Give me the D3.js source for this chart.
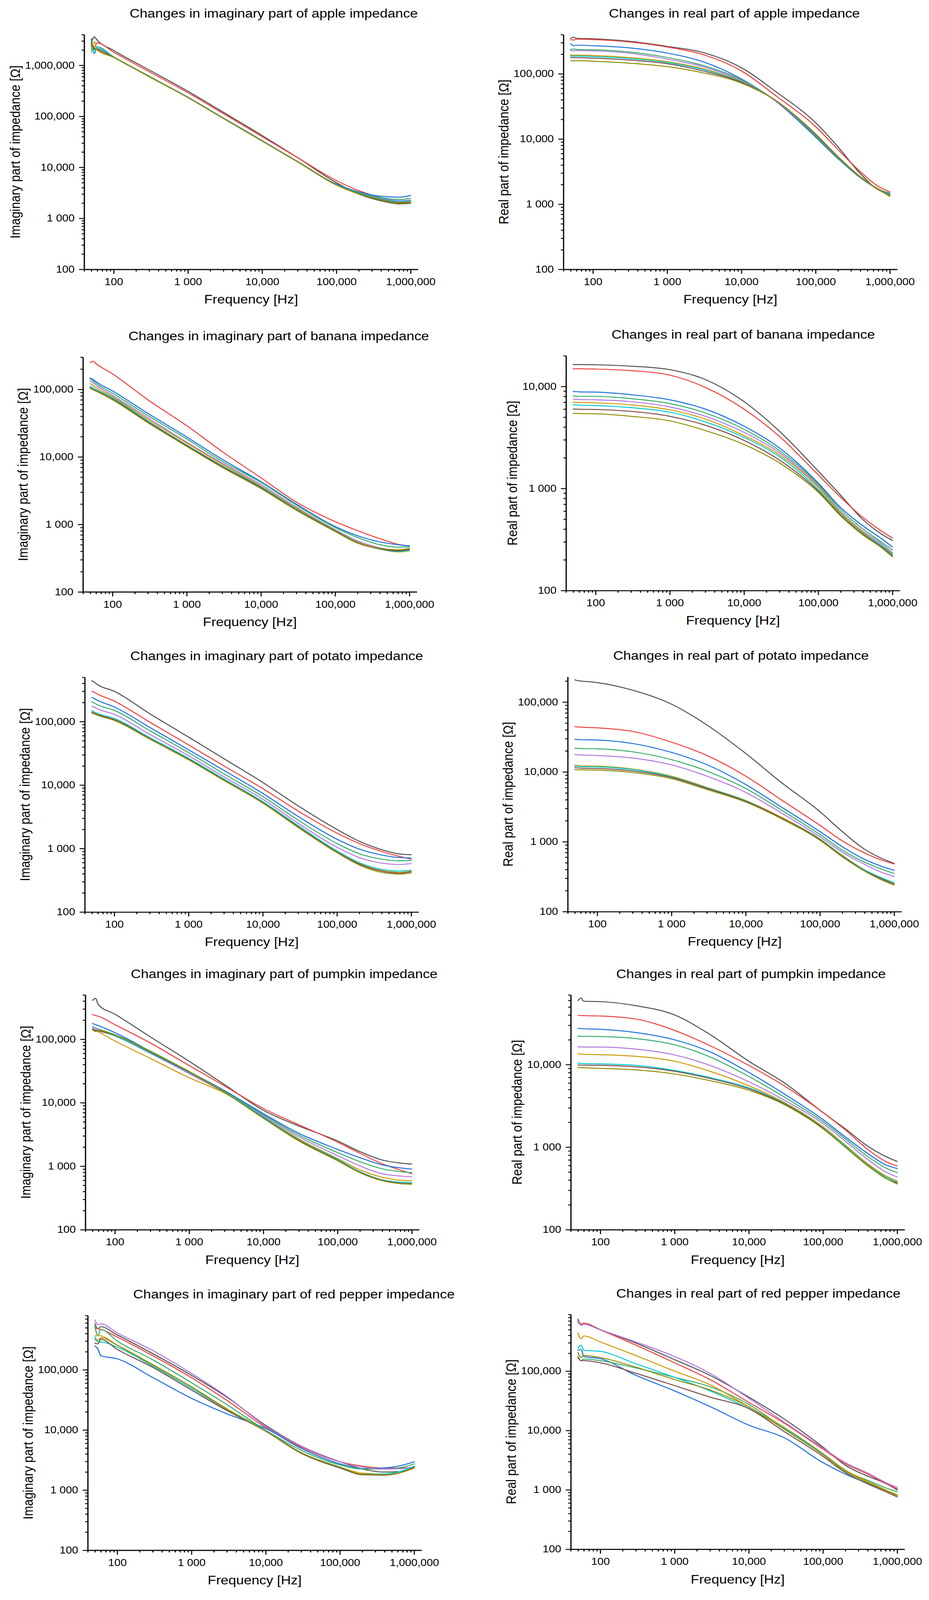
<!DOCTYPE html>
<html>
<head>
<meta charset="utf-8">
<script src="https://cdn.jsdelivr.net/npm/d3@7"></script>
<style>
  html, body { margin: 0; padding: 0; background: #fff; width: 100vw; height: 100vh; overflow: hidden; }
  svg { display: block; width: 100vw; height: 100vh; }
  text { font-family: "Liberation Sans", Arial, sans-serif; fill: #000; }
</style>
</head>
<body>
<svg id="chart" viewBox="0 0 2379 4675" preserveAspectRatio="none"></svg>
<script>
// frequencies [Hz] where the curves are sampled
var freq = [50, 55, 60, 100, 300, 1000, 3000, 10000, 30000, 100000, 200000, 400000, 700000, 1000000];

// line colours, same order as the series in every panel
var lineColors = ["#515151", "#F14040", "#1A6FDF", "#37AD6B", "#B177DE", "#CC9900", "#00CBCC", "#7D4E4E", "#8E8E00"];

var tickValues = [100, 1000, 10000, 100000, 1000000];
var tickLabels = ["100", "1 000", "10,000", "100,000", "1,000,000"];

// one row per series: black, red, blue, green, violet, gold, cyan, brown, olive
var appleImag = [
  [2.8e6, 3.6e6, 3.1e6, 1.95e6, 8.1e5, 3.1e5, 1.2e5, 4.2e4, 1.55e4, 5.0e3, 3.0e3, 2.2e3, 1.92e3, 1.97e3],
  [2.5e6, 2.3e6, 2.75e6, 1.8e6, 7.5e5, 2.9e5, 1.13e5, 4.0e4, 1.55e4, 5.5e3, 3.5e3, 2.55e3, 2.2e3, 2.2e3],
  [3.3e6, 1.7e6, 2.3e6, 1.46e6, 6.1e5, 2.37e5, 9.3e4, 3.35e4, 1.3e4, 4.7e3, 3.3e3, 2.7e3, 2.6e3, 2.8e3],
  [2.4e6, 2.0e6, 2.15e6, 1.45e6, 6.1e5, 2.36e5, 9.2e4, 3.3e4, 1.3e4, 4.6e3, 3.2e3, 2.55e3, 2.35e3, 2.47e3],
  [2.5e6, 2.2e6, 2.1e6, 1.44e6, 6.0e5, 2.35e5, 9.2e4, 3.3e4, 1.3e4, 4.6e3, 3.1e3, 2.45e3, 2.22e3, 2.3e3],
  [1.8e6, 2.9e6, 2.0e6, 1.43e6, 6.0e5, 2.34e5, 9.1e4, 3.3e4, 1.29e4, 4.55e3, 3.05e3, 2.35e3, 2.08e3, 2.1e3],
  [2.2e6, 1.8e6, 2.3e6, 1.44e6, 6.05e5, 2.35e5, 9.2e4, 3.3e4, 1.3e4, 4.6e3, 3.1e3, 2.4e3, 2.15e3, 2.2e3],
  [2.6e6, 2.1e6, 2.05e6, 1.43e6, 6.0e5, 2.34e5, 9.1e4, 3.28e4, 1.29e4, 4.55e3, 3.05e3, 2.33e3, 2.03e3, 2.05e3],
  [2.7e6, 2.2e6, 2.0e6, 1.43e6, 6.0e5, 2.33e5, 9.1e4, 3.28e4, 1.28e4, 4.5e3, 3.0e3, 2.3e3, 1.98e3, 2.0e3]
];

var appleReal = [
  [3.5e5, 3.65e5, 3.5e5, 3.45e5, 3.16e5, 2.64e5, 2.13e5, 1.24e5, 5.2e4, 1.78e4, 7.6e3, 2.95e3, 1.66e3, 1.43e3],
  [3.35e5, 3.3e5, 3.4e5, 3.35e5, 3.09e5, 2.58e5, 1.98e5, 1.11e5, 4.5e4, 1.55e4, 6.9e3, 3.16e3, 1.87e3, 1.55e3],
  [2.9e5, 2.7e5, 2.75e5, 2.7e5, 2.51e5, 2.08e5, 1.54e5, 8.35e4, 3.7e4, 1.07e4, 5.0e3, 2.55e3, 1.7e3, 1.48e3],
  [2.35e5, 2.4e5, 2.37e5, 2.34e5, 2.17e5, 1.78e5, 1.35e5, 8.1e4, 3.75e4, 1.12e4, 5.1e3, 2.6e3, 1.72e3, 1.43e3],
  [2.3e5, 2.25e5, 2.27e5, 2.25e5, 2.08e5, 1.68e5, 1.29e5, 7.8e4, 3.75e4, 1.14e4, 5.2e3, 2.6e3, 1.7e3, 1.4e3],
  [1.95e5, 1.93e5, 1.94e5, 1.91e5, 1.78e5, 1.54e5, 1.2e5, 7.6e4, 3.8e4, 1.16e4, 5.25e3, 2.62e3, 1.7e3, 1.38e3],
  [1.88e5, 1.86e5, 1.87e5, 1.84e5, 1.72e5, 1.49e5, 1.17e5, 7.5e4, 3.8e4, 1.15e4, 5.2e3, 2.6e3, 1.68e3, 1.37e3],
  [1.78e5, 1.77e5, 1.77e5, 1.74e5, 1.63e5, 1.43e5, 1.11e5, 7.4e4, 3.8e4, 1.17e4, 5.3e3, 2.62e3, 1.68e3, 1.35e3],
  [1.6e5, 1.58e5, 1.59e5, 1.56e5, 1.46e5, 1.29e5, 1.04e5, 7.2e4, 3.8e4, 1.2e4, 5.4e3, 2.65e3, 1.68e3, 1.32e3]
];

var bananaImag = [
  [1.05e5, 9.9e4, 9.5e4, 7.1e4, 3.25e4, 1.45e4, 7.1e3, 3.45e3, 1.63e3, 7.9e2, 5.3e2, 4.35e2, 4.1e2, 4.35e2],
  [2.5e5, 2.6e5, 2.4e5, 1.7e5, 7.0e4, 2.9e4, 1.2e4, 4.9e3, 2.14e3, 1.1e3, 8.1e2, 6.15e2, 5.07e2, 4.8e2],
  [1.47e5, 1.4e5, 1.3e5, 9.5e4, 4.4e4, 1.97e4, 9.2e3, 4.3e3, 2.0e3, 9.3e2, 6.8e2, 5.5e2, 5.0e2, 4.8e2],
  [1.43e5, 1.33e5, 1.23e5, 8.8e4, 4.1e4, 1.84e4, 8.6e3, 4.2e3, 1.93e3, 9.0e2, 6.4e2, 5.0e2, 4.6e2, 4.65e2],
  [1.34e5, 1.25e5, 1.16e5, 8.2e4, 3.8e4, 1.65e4, 8.1e3, 3.9e3, 1.8e3, 8.4e2, 5.7e2, 4.5e2, 4.1e2, 4.2e2],
  [1.22e5, 1.14e5, 1.07e5, 7.8e4, 3.6e4, 1.6e4, 7.8e3, 3.7e3, 1.74e3, 8.2e2, 5.5e2, 4.35e2, 3.9e2, 4.05e2],
  [1.11e5, 1.05e5, 1.0e5, 7.5e4, 3.4e4, 1.5e4, 7.4e3, 3.6e3, 1.68e3, 8.1e2, 5.4e2, 4.3e2, 3.97e2, 4.1e2],
  [1.06e5, 1.0e5, 9.6e4, 7.2e4, 3.3e4, 1.47e4, 7.2e3, 3.5e3, 1.65e3, 8.0e2, 5.35e2, 4.35e2, 4.05e2, 4.3e2],
  [1.04e5, 9.8e4, 9.4e4, 7.0e4, 3.2e4, 1.43e4, 7.0e3, 3.4e3, 1.62e3, 7.85e2, 5.3e2, 4.4e2, 4.2e2, 4.4e2]
];

var bananaReal = [
  [1.64e4, 1.64e4, 1.64e4, 1.63e4, 1.58e4, 1.46e4, 1.17e4, 7.1e3, 3.64e3, 1.48e3, 8.6e2, 4.95e2, 3.6e2, 3.1e2],
  [1.49e4, 1.49e4, 1.49e4, 1.48e4, 1.43e4, 1.29e4, 9.8e3, 6.0e3, 3.24e3, 1.36e3, 8.2e2, 5.2e2, 3.85e2, 3.27e2],
  [8.9e3, 8.9e3, 8.85e3, 8.8e3, 8.3e3, 7.4e3, 6.0e3, 4.08e3, 2.5e3, 1.13e3, 6.5e2, 4.3e2, 3.25e2, 2.67e2],
  [8.05e3, 8.05e3, 8.0e3, 8.0e3, 7.6e3, 6.8e3, 5.5e3, 3.8e3, 2.35e3, 1.1e3, 6.2e2, 4.0e2, 3.0e2, 2.5e2],
  [7.5e3, 7.5e3, 7.45e3, 7.4e3, 7.1e3, 6.3e3, 5.1e3, 3.55e3, 2.24e3, 1.06e3, 5.9e2, 3.8e2, 2.9e2, 2.35e2],
  [7.0e3, 7.0e3, 6.95e3, 6.9e3, 6.6e3, 5.9e3, 4.8e3, 3.3e3, 2.14e3, 1.03e3, 5.8e2, 3.7e2, 2.8e2, 2.3e2],
  [6.6e3, 6.6e3, 6.55e3, 6.5e3, 6.2e3, 5.6e3, 4.5e3, 3.17e3, 2.05e3, 9.8e2, 5.6e2, 3.6e2, 2.78e2, 2.24e2],
  [6.0e3, 6.0e3, 5.97e3, 5.95e3, 5.7e3, 5.1e3, 4.17e3, 2.96e3, 1.9e3, 9.45e2, 5.5e2, 3.55e2, 2.7e2, 2.18e2],
  [5.45e3, 5.45e3, 5.42e3, 5.4e3, 5.1e3, 4.6e3, 3.7e3, 2.7e3, 1.78e3, 9.2e2, 5.4e2, 3.5e2, 2.65e2, 2.14e2]
];

var potatoImag = [
  [4.4e5, 4.1e5, 3.8e5, 3.0e5, 1.33e5, 5.7e4, 2.6e4, 1.1e4, 4.7e3, 2.0e3, 1.3e3, 9.6e2, 8.2e2, 8.0e2],
  [3.0e5, 2.85e5, 2.7e5, 2.1e5, 9.8e4, 4.3e4, 2.0e4, 8.8e3, 3.9e3, 1.75e3, 1.2e3, 9.0e2, 7.5e2, 6.8e2],
  [2.4e5, 2.27e5, 2.15e5, 1.7e5, 8.1e4, 3.6e4, 1.7e4, 7.4e3, 3.2e3, 1.4e3, 9.8e2, 7.9e2, 7.2e2, 7.1e2],
  [2.05e5, 1.93e5, 1.83e5, 1.5e5, 7.2e4, 3.25e4, 1.5e4, 6.6e3, 2.8e3, 1.2e3, 8.3e2, 6.8e2, 6.4e2, 6.5e2],
  [1.75e5, 1.66e5, 1.58e5, 1.3e5, 6.3e4, 2.9e4, 1.35e4, 6.0e3, 2.5e3, 1.05e3, 7.2e2, 5.9e2, 5.6e2, 5.8e2],
  [1.42e5, 1.35e5, 1.3e5, 1.08e5, 5.45e4, 2.57e4, 1.21e4, 5.35e3, 2.22e3, 8.9e2, 5.8e2, 4.5e2, 4.2e2, 4.4e2],
  [1.48e5, 1.4e5, 1.34e5, 1.12e5, 5.6e4, 2.65e4, 1.25e4, 5.5e3, 2.3e3, 9.2e2, 6.0e2, 4.7e2, 4.4e2, 4.55e2],
  [1.4e5, 1.33e5, 1.28e5, 1.07e5, 5.4e4, 2.55e4, 1.2e4, 5.3e3, 2.2e3, 8.8e2, 5.7e2, 4.4e2, 4.1e2, 4.3e2],
  [1.36e5, 1.3e5, 1.25e5, 1.04e5, 5.3e4, 2.5e4, 1.18e4, 5.2e3, 2.15e3, 8.6e2, 5.5e2, 4.2e2, 3.95e2, 4.1e2]
];

var potatoReal = [
  [2.08e5, 2.02e5, 2.0e5, 1.9e5, 1.48e5, 9.35e4, 4.7e4, 1.84e4, 7.1e3, 2.7e3, 1.4e3, 7.8e2, 5.7e2, 4.9e2],
  [4.44e4, 4.4e4, 4.37e4, 4.28e4, 3.8e4, 2.67e4, 1.72e4, 8.7e3, 4.0e3, 1.72e3, 1.03e3, 6.9e2, 5.4e2, 4.8e2],
  [2.92e4, 2.9e4, 2.89e4, 2.86e4, 2.55e4, 1.9e4, 1.27e4, 6.6e3, 3.16e3, 1.4e3, 8.5e2, 5.6e2, 4.4e2, 3.9e2],
  [2.18e4, 2.17e4, 2.16e4, 2.14e4, 1.94e4, 1.5e4, 1.03e4, 5.8e3, 2.86e3, 1.27e3, 7.6e2, 5.1e2, 4.0e2, 3.5e2],
  [1.77e4, 1.76e4, 1.75e4, 1.72e4, 1.58e4, 1.26e4, 8.7e3, 5.1e3, 2.6e3, 1.18e3, 7.1e2, 4.75e2, 3.6e2, 3.2e2],
  [1.24e4, 1.23e4, 1.22e4, 1.21e4, 1.1e4, 8.7e3, 6.0e3, 3.9e3, 2.25e3, 1.1e3, 6.4e2, 3.95e2, 2.96e2, 2.5e2],
  [1.21e4, 1.2e4, 1.19e4, 1.18e4, 1.08e4, 8.5e3, 5.9e3, 3.86e3, 2.2e3, 1.09e3, 6.3e2, 3.95e2, 3.0e2, 2.6e2],
  [1.15e4, 1.14e4, 1.13e4, 1.12e4, 1.03e4, 8.3e3, 5.8e3, 3.8e3, 2.2e3, 1.07e3, 6.2e2, 3.85e2, 2.9e2, 2.45e2],
  [1.08e4, 1.07e4, 1.07e4, 1.06e4, 9.8e3, 8.0e3, 5.6e3, 3.7e3, 2.15e3, 1.05e3, 6.1e2, 3.8e2, 2.8e2, 2.4e2]
];

var pumpkinImag = [
  [4.1e5, 4.4e5, 3.5e5, 2.48e5, 1.09e5, 4.5e4, 1.93e4, 7.6e3, 4.3e3, 2.5e3, 1.7e3, 1.25e3, 1.12e3, 1.08e3],
  [2.44e5, 2.37e5, 2.3e5, 1.7e5, 8.75e4, 3.86e4, 1.84e4, 8.1e3, 4.5e3, 2.4e3, 1.6e3, 1.09e3, 8.7e2, 7.6e2],
  [1.77e5, 1.7e5, 1.64e5, 1.27e5, 6.5e4, 3.1e4, 1.55e4, 6.75e3, 3.3e3, 1.84e3, 1.36e3, 1.05e3, 9.4e2, 9.0e2],
  [1.58e5, 1.5e5, 1.45e5, 1.18e5, 6.5e4, 3.1e4, 1.5e4, 6.5e3, 3.1e3, 1.64e3, 1.18e3, 9.1e2, 8.2e2, 7.9e2],
  [1.56e5, 1.48e5, 1.42e5, 1.13e5, 6.0e4, 2.88e4, 1.45e4, 6.25e3, 2.9e3, 1.47e3, 1.01e3, 7.6e2, 7.0e2, 6.8e2],
  [1.42e5, 1.36e5, 1.3e5, 9.4e4, 5.0e4, 2.48e4, 1.42e4, 6.0e3, 2.7e3, 1.32e3, 8.75e2, 6.7e2, 6.0e2, 5.9e2],
  [1.47e5, 1.4e5, 1.36e5, 1.13e5, 6.1e4, 3.0e4, 1.48e4, 6.0e3, 2.6e3, 1.28e3, 8.2e2, 6.1e2, 5.6e2, 5.5e2],
  [1.45e5, 1.38e5, 1.35e5, 1.16e5, 6.3e4, 3.05e4, 1.46e4, 5.8e3, 2.55e3, 1.24e3, 8.0e2, 6.0e2, 5.4e2, 5.3e2],
  [1.42e5, 1.32e5, 1.37e5, 1.16e5, 6.4e4, 3.1e4, 1.46e4, 5.7e3, 2.5e3, 1.22e3, 7.9e2, 5.9e2, 5.3e2, 5.2e2]
];

var pumpkinReal = [
  [5.96e4, 6.4e4, 5.85e4, 5.8e4, 5.18e4, 4.0e4, 2.32e4, 1.1e4, 6.04e3, 2.63e3, 1.67e3, 1.03e3, 7.7e2, 6.7e2],
  [3.95e4, 3.93e4, 3.92e4, 3.88e4, 3.57e4, 2.6e4, 1.7e4, 9.8e3, 5.55e3, 2.63e3, 1.62e3, 9.4e2, 6.7e2, 5.9e2],
  [2.75e4, 2.73e4, 2.72e4, 2.68e4, 2.45e4, 2.0e4, 1.43e4, 8.05e3, 4.42e3, 2.16e3, 1.33e3, 8.4e2, 6.1e2, 5.5e2],
  [2.21e4, 2.2e4, 2.2e4, 2.19e4, 2.07e4, 1.74e4, 1.24e4, 7.2e3, 4.05e3, 2.04e3, 1.26e3, 7.7e2, 5.6e2, 4.9e2],
  [1.64e4, 1.64e4, 1.63e4, 1.63e4, 1.54e4, 1.31e4, 9.8e3, 6.2e3, 3.72e3, 1.93e3, 1.18e3, 7.1e2, 5.0e2, 4.35e2],
  [1.35e4, 1.34e4, 1.33e4, 1.32e4, 1.26e4, 1.1e4, 8.3e3, 5.55e3, 3.5e3, 1.77e3, 1.06e3, 6.3e2, 4.5e2, 3.9e2],
  [1.04e4, 1.035e4, 1.03e4, 1.02e4, 9.8e3, 8.5e3, 6.97e3, 5.24e3, 3.4e3, 1.72e3, 1.03e3, 6.1e2, 4.35e2, 3.77e2],
  [9.9e3, 9.87e3, 9.85e3, 9.8e3, 9.4e3, 8.3e3, 6.8e3, 5.1e3, 3.35e3, 1.69e3, 1.0e3, 6.0e2, 4.2e2, 3.67e2],
  [9.2e3, 9.18e3, 9.15e3, 9.0e3, 8.65e3, 7.7e3, 6.4e3, 4.9e3, 3.28e3, 1.67e3, 1.0e3, 5.95e2, 4.2e2, 3.57e2]
];

var pepperImag = [
  [5.8e5, 4.8e5, 5.2e5, 3.8e5, 1.86e5, 8.1e4, 3.5e4, 1.19e4, 5.4e3, 2.96e3, 2.24e3, 1.99e3, 2.05e3, 2.4e3],
  [4.96e5, 4.8e5, 4.7e5, 3.5e5, 1.72e5, 7.4e4, 3.1e4, 1.1e4, 5.2e3, 2.96e3, 2.5e3, 2.33e3, 2.33e3, 2.4e3],
  [2.5e5, 2.2e5, 1.72e5, 1.52e5, 7.45e4, 3.36e4, 1.85e4, 1.06e4, 4.95e3, 2.73e3, 2.27e3, 2.33e3, 2.6e3, 2.96e3],
  [5.25e5, 3.7e5, 4.7e5, 3.0e5, 1.47e5, 6.1e4, 2.64e4, 9.9e3, 4.6e3, 2.63e3, 2.24e3, 2.24e3, 2.4e3, 2.73e3],
  [6.7e5, 5.6e5, 5.8e5, 4.1e5, 2.1e5, 8.7e4, 3.6e4, 1.15e4, 5.4e3, 2.96e3, 2.42e3, 2.24e3, 2.27e3, 2.46e3],
  [3.66e5, 3.7e5, 3.66e5, 2.56e5, 1.2e5, 5.2e4, 2.25e4, 9.8e3, 4.2e3, 2.42e3, 1.91e3, 1.84e3, 2.0e3, 2.33e3],
  [3.5e5, 2.9e5, 2.9e5, 2.37e5, 1.15e5, 4.9e4, 2.2e4, 9.8e3, 4.2e3, 2.42e3, 1.84e3, 1.86e3, 2.1e3, 2.5e3],
  [2.77e5, 2.7e5, 3.2e5, 2.18e5, 1.1e5, 4.6e4, 2.1e4, 9.5e3, 4.1e3, 2.33e3, 1.8e3, 1.77e3, 2.0e3, 2.4e3],
  [3.2e5, 3.1e5, 3.4e5, 2.56e5, 1.22e5, 5.2e4, 2.2e4, 9.6e3, 4.2e3, 2.4e3, 1.84e3, 1.8e3, 2.0e3, 2.33e3]
];

var pepperReal = [
  [7.5e5, 6.1e5, 6.4e5, 5.0e5, 2.97e5, 1.56e5, 8.5e4, 3.65e4, 1.56e4, 5.25e3, 2.6e3, 1.7e3, 1.28e3, 1.0e3],
  [6.6e5, 6.2e5, 6.4e5, 4.95e5, 2.74e5, 1.38e5, 7.2e4, 2.98e4, 1.33e4, 4.85e3, 2.75e3, 1.84e3, 1.28e3, 1.04e3],
  [2.24e5, 2.33e5, 1.76e5, 1.62e5, 8.5e4, 4.65e4, 2.53e4, 1.23e4, 7.55e3, 2.87e3, 1.84e3, 1.28e3, 9.7e2, 8.0e2],
  [1.76e5, 1.5e5, 1.6e5, 1.5e5, 1.13e5, 7.85e4, 5.46e4, 2.75e4, 1.09e4, 3.98e3, 2.08e3, 1.45e3, 1.08e3, 9.3e2],
  [7.0e5, 5.9e5, 6.1e5, 4.95e5, 3.1e5, 1.76e5, 9.2e4, 3.5e4, 1.38e4, 5.05e3, 2.87e3, 1.92e3, 1.33e3, 1.1e3],
  [4.4e5, 3.5e5, 3.9e5, 3.1e5, 1.83e5, 1.0e5, 5.9e4, 2.5e4, 1.13e4, 4.1e3, 2.16e3, 1.39e3, 1.0e3, 8.2e2],
  [2.43e5, 2.74e5, 2.24e5, 2.15e5, 1.33e5, 7.85e4, 4.65e4, 2.34e4, 1.09e4, 3.98e3, 2.08e3, 1.33e3, 9.7e2, 8.0e2],
  [1.69e5, 1.5e5, 1.5e5, 1.38e5, 9.2e4, 5.7e4, 3.65e4, 2.34e4, 9.6e3, 3.66e3, 1.95e3, 1.26e3, 9.3e2, 7.6e2],
  [2.07e5, 1.69e5, 1.83e5, 1.69e5, 1.17e5, 7.2e4, 4.83e4, 2.5e4, 1.05e4, 3.9e3, 2.05e3, 1.33e3, 9.7e2, 8.0e2]
];

var imagLabel = "Imaginary part of impedance [\u03A9]";
var realLabel = "Real part of impedance [\u03A9]";

var panels = [
  {title: "Changes in imaginary part of apple impedance", yLabel: imagLabel, data: appleImag, yMax: 4e6, left: 215.5, top: 101},
  {title: "Changes in real part of apple impedance", yLabel: realLabel, data: appleReal, yMax: 4e5, left: 1442.7, top: 101},
  {title: "Changes in imaginary part of banana impedance", yLabel: imagLabel, data: bananaImag, yMax: 3e5, left: 212.4, top: 1043.5},
  {title: "Changes in real part of banana impedance", yLabel: realLabel, data: bananaReal, yMax: 2e4, left: 1449.5, top: 1039.4},
  {title: "Changes in imaginary part of potato impedance", yLabel: imagLabel, data: potatoImag, yMax: 5e5, left: 217, top: 1978.7},
  {title: "Changes in real part of potato impedance", yLabel: realLabel, data: potatoReal, yMax: 2.3e5, left: 1453.7, top: 1977.5},
  {title: "Changes in imaginary part of pumpkin impedance", yLabel: imagLabel, data: pumpkinImag, yMax: 5e5, left: 218.5, top: 2906.9},
  {title: "Changes in real part of pumpkin impedance", yLabel: realLabel, data: pumpkinReal, yMax: 7e4, left: 1461.6, top: 2906.9},
  {title: "Changes in imaginary part of red pepper impedance", yLabel: imagLabel, data: pepperImag, yMax: 8e5, left: 224.6, top: 3843.6},
  {title: "Changes in real part of red pepper impedance", yLabel: realLabel, data: pepperReal, yMax: 9e5, left: 1461.6, top: 3840.6}
];

var svg = d3.select("#chart");
var width = 855,
    height = 686,
    axisWidth = 2.7,
    majorLen = 13,
    minorLen = 6.5;

function labelFor(v) {
  var i = tickValues.indexOf(v);
  return i < 0 ? "" : tickLabels[i];
}

function isDecade(v) {
  return Math.abs(Math.log10(v) - Math.round(Math.log10(v))) < 1e-9;
}

function styleAxis(sel) {
  sel.select(".domain").style("stroke-width", axisWidth).style("stroke", "#000");
  sel.selectAll(".tick line").style("stroke-width", axisWidth).style("stroke", "#000");
  sel.selectAll("text")
      .style("font-size", "28.5px")
      .style("font-family", "'Liberation Sans', Arial, sans-serif");
}

svg.append("rect")
    .attr("width", 2379)
    .attr("height", 4675)
    .style("fill", "#fff");

panels.forEach(function(p) {
  var x = d3.scaleLog().domain([40, 1.26e6]).range([0, width]);
  var y = d3.scaleLog().domain([100, p.yMax]).range([height, 0]);

  var g = svg.append("g")
      .attr("transform", "translate(" + p.left + "," + p.top + ")");

  var line = d3.line()
      .x(function(d, i) { return x(freq[i]); })
      .y(function(d) { return y(d); })
      .curve(d3.curveMonotoneX);

  g.append("g")
      .attr("class", "series")
    .selectAll("path")
    .data(p.data)
    .enter().append("path")
      .attr("d", line)
      .style("fill", "none")
      .style("stroke", function(d, i) { return lineColors[i]; })
      .style("stroke-width", 2.8)
      .style("stroke-linejoin", "round")
      .style("stroke-linecap", "round");

  var xMinor = x.ticks().filter(function(v) { return !isDecade(v); });
  var yMinor = y.ticks().filter(function(v) { return !isDecade(v); });
  var yMajor = tickValues.filter(function(v) { return v <= p.yMax; });

  // minor ticks first, then major ticks with labels
  g.append("g")
      .attr("transform", "translate(0," + height + ")")
      .call(d3.axisBottom(x).tickValues(xMinor).tickSize(minorLen).tickSizeOuter(0).tickFormat(""))
      .call(styleAxis);
  g.append("g")
      .attr("transform", "translate(0," + height + ")")
      .call(d3.axisBottom(x).tickValues(tickValues).tickSize(majorLen).tickSizeOuter(0).tickPadding(12.8).tickFormat(labelFor))
      .call(styleAxis);

  g.append("g")
      .call(d3.axisLeft(y).tickValues(yMinor).tickSize(minorLen).tickSizeOuter(0).tickFormat(""))
      .call(styleAxis);
  var yAx = g.append("g")
      .call(d3.axisLeft(y).tickValues(yMajor).tickSize(majorLen).tickSizeOuter(0).tickPadding(11.5).tickFormat(labelFor))
      .call(styleAxis);

  var maxW = 0;
  yAx.selectAll("text").each(function() {
    maxW = Math.max(maxW, this.getComputedTextLength());
  });

  g.append("text")
      .attr("x", 116.5)
      .attr("y", -49.5)
      .style("font-size", "35.7px")
      .text(p.title);

  g.append("text")
      .attr("x", width / 2)
      .attr("y", height + 100)
      .attr("text-anchor", "middle")
      .style("font-size", "35.5px")
      .text("Frequency [Hz]");

  g.append("text")
      .attr("transform", "translate(" + (-(majorLen + 11.5 + maxW + 13.5)) + "," + (height / 2) + ") rotate(-90)")
      .attr("text-anchor", "middle")
      .style("font-size", "35.5px")
      .text(p.yLabel);
});
</script>
</body>
</html>
